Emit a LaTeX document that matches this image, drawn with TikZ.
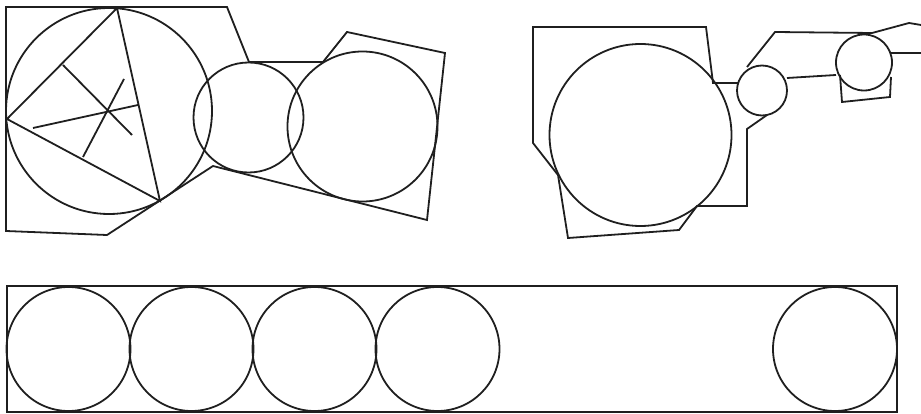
\documentclass[tikz,border=0pt]{standalone}
\begin{document}
\begin{tikzpicture}[x=1pt,y=-1pt,line join=miter,
  ln/.style={draw=black!88,line width=1.8pt}]
\useasboundingbox (0,0) rectangle (921,414);
% ---- left group ----
\draw[ln] (6,7) -- (227,7) -- (249,62) -- (323,62) -- (347,32) -- (445,53)
  -- (427,220) -- (213,166) -- (107,235) -- (6,231) -- cycle;
\coordinate (O1) at (109,111);
\draw[ln] (O1) circle[radius=103];
\coordinate (A) at (117,8);
\coordinate (B) at (7,119);
\coordinate (C) at (160,201);
\draw[ln] (A) -- (B) -- (C) -- cycle;
\draw[ln] (63,65) -- (132,135);
\draw[ln] (33,128) -- (138,105);
\draw[ln] (83,157) -- (124,79);
\draw[ln] (248.5,117.5) circle[radius=55];
\draw[ln] (362.5,126.5) circle[radius=75];
% ---- right group ----
\draw[ln] (738,83) -- (713,83) -- (706,27) -- (533,27) -- (533,143) -- (558,175)
  -- (568,238) -- (679,230) -- (697,206) -- (747,206) -- (747,129) -- (767,115);
\draw[ln] (640.5,135) circle[radius=91];
\draw[ln] (762,90.5) circle[radius=25];
\draw[ln] (747,67) -- (775,32) -- (872,33) -- (909,23) -- (921,25);
\draw[ln] (787,78) -- (836,75);
\draw[ln] (864,62.5) circle[radius=28];
\draw[ln] (891,53) -- (921,53);
\draw[ln] (840,75) -- (842,102) -- (890,97) -- (891,77);
% ---- bottom ----
\draw[ln] (7,286) rectangle (897,412);
\foreach \cx in {68.5,191.5,314.5,437.5,835}
  \draw[ln] (\cx,349) circle[radius=62];
\end{tikzpicture}
\end{document}
